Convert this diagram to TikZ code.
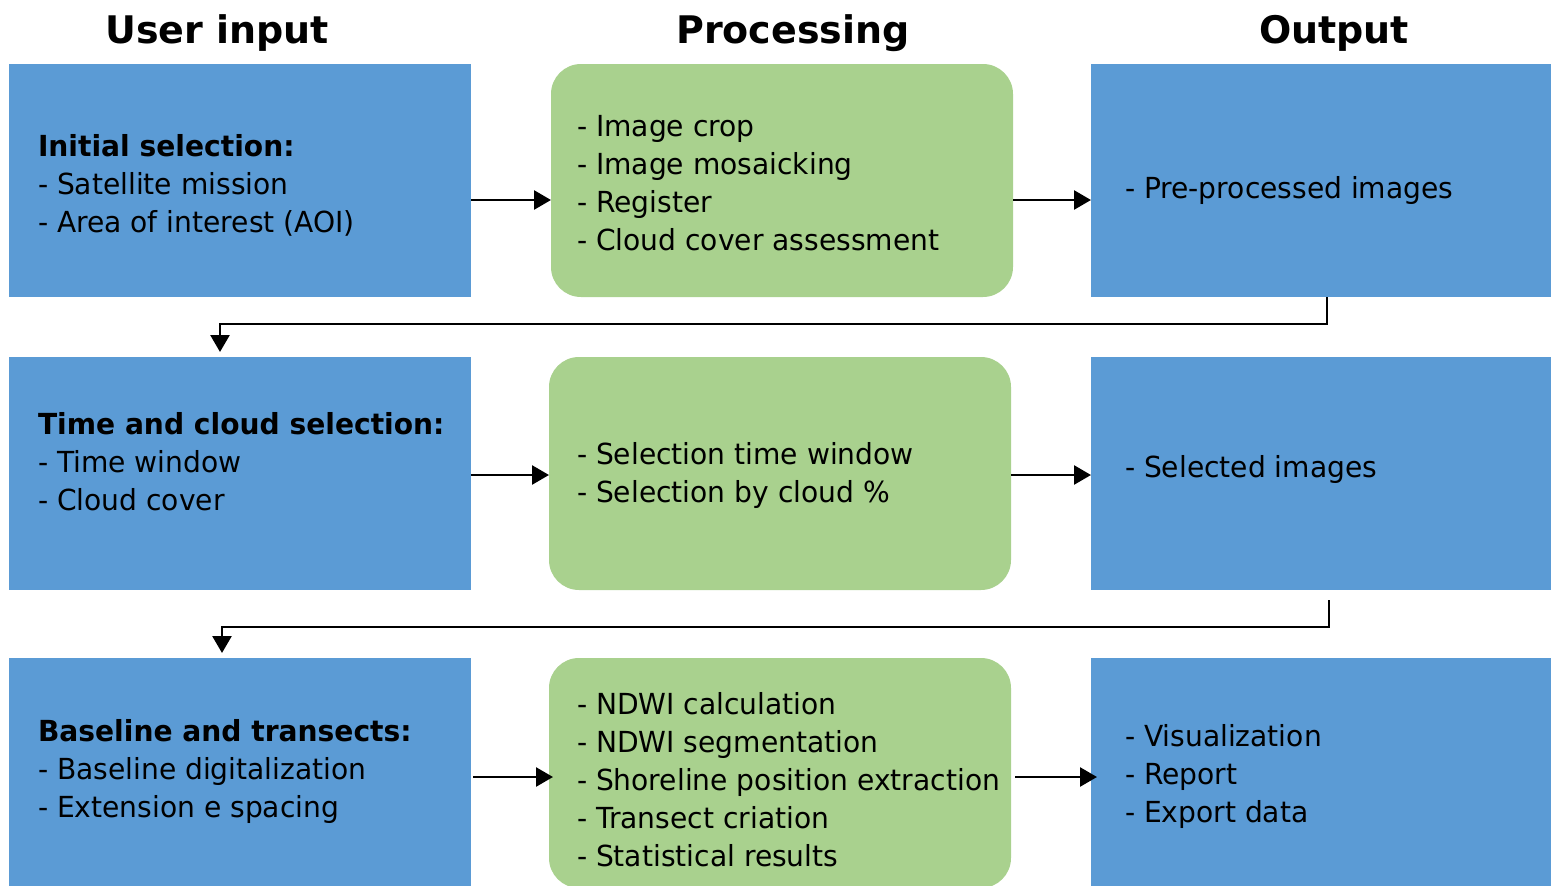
\documentclass[tikz,border=0pt]{standalone}
\usepackage{fontspec}
\setmainfont{DejaVu Sans}
\newfontfamily\bodyfont[FakeStretch=0.97]{DejaVu Sans}
\usetikzlibrary{positioning,arrows.meta}

\definecolor{userblue}{HTML}{5B9BD5}
\definecolor{procgreen}{HTML}{A9D18E}

\begin{document}
\begin{tikzpicture}[
        x=1pt, y=-1pt,
        every node/.style={inner sep=0pt, outer sep=0pt},
        bluebox/.style={fill=userblue, minimum width=462pt, minimum height=233pt},
        greenbox/.style={fill=procgreen, rounded corners=30pt, minimum width=462pt, minimum height=233pt},
        head/.style={anchor=base, font=\fontsize{38}{44}\selectfont\bfseries},
        txt/.style={align=left, font=\bodyfont\fontsize{29}{38}\selectfont},
        flow/.style={draw, line width=2.6pt, -{Triangle[length=17pt,width=19pt]}},
    ]
    \useasboundingbox (0,0) rectangle (1551,886);

    % column titles
    \node[head] (userhead) at (217,43) {User input};
    \node[head] (prochead) at (793,43) {Processing};
    \node[head] (outhead) at (1334,43) {Output};

    % first row
    \node[bluebox, anchor=north west] (in1) at (9,64) {};
    \node[greenbox, right=80pt of in1] (pr1) {};
    \node[bluebox, right=78pt of pr1] (out1) {};

    % second row
    \node[bluebox, below=60pt of in1] (in2) {};
    \node[greenbox, right=78pt of in2] (pr2) {};
    \node[bluebox, right=80pt of pr2] (out2) {};

    % third row
    \node[bluebox, below=68pt of in2, minimum height=230pt] (in3) {};
    \node[greenbox, right=78pt of in3, minimum height=230pt] (pr3) {};
    \node[bluebox, right=80pt of pr3, minimum height=230pt] (out3) {};

    % box texts
    \node[txt, right=29pt of in1.west, yshift=-4.5pt] (in1t) {\textbf{Initial selection:}\\- Satellite mission\\- Area of interest (AOI)};
    \node[txt, right=26pt of pr1.west, yshift=-3pt] (pr1t) {- Image crop\\- Image mosaicking\\- Register\\- Cloud cover assessment};
    \node[txt, right=34pt of out1.west, yshift=-10pt] (out1t) {- Pre-processed images};

    \node[txt, right=29pt of in2.west, yshift=11.5pt] (in2t) {\textbf{Time and cloud selection:}\\- Time window\\- Cloud cover};
    \node[txt, right=28pt of pr2.west, yshift=-2pt] (pr2t) {- Selection time window\\- Selection by cloud \%};
    \node[txt, right=34pt of out2.west, yshift=4pt] (out2t) {- Selected images};

    \node[txt, right=29pt of in3.west, yshift=2pt] (in3t) {\textbf{Baseline and transects:}\\- Baseline digitalization\\- Extension e spacing};
    \node[txt, right=28pt of pr3.west, yshift=-7pt] (pr3t) {- NDWI calculation\\- NDWI segmentation\\- Shoreline position extraction\\- Transect criation\\- Statistical results};
    \node[txt, right=34pt of out3.west, yshift=-3.5pt] (out3t) {- Visualization\\- Report\\- Export data};

    % arrows
    \draw[flow] ([yshift=-19.5pt]in1.east) -- ([yshift=-19.5pt]pr1.west);
    \draw[flow] ([yshift=-19.5pt]pr1.east) -- ([yshift=-19.5pt]out1.west);
    \draw[flow] ([yshift=-1.5pt]in2.east) -- ([yshift=-1.5pt]pr2.west);
    \draw[flow] ([yshift=-1.5pt]pr2.east) -- ([yshift=-1.5pt]out2.west);
    \draw[flow] ([xshift=2pt,yshift=-4pt]in3.east) -- ([xshift=4pt,yshift=-4pt]pr3.west);
    \draw[flow] ([xshift=4pt,yshift=-4pt]pr3.east) -- ([xshift=6pt,yshift=-4pt]out3.west);

    \draw[flow] ([xshift=5pt]out1.south) -- ++(0,27) -| ([xshift=-20pt,yshift=5pt]in2.north);
    \draw[flow] ([xshift=7pt,yshift=-10pt]out2.south) -- ++(0,27) -| ([xshift=-18pt,yshift=5pt]in3.north);
\end{tikzpicture}
\end{document}
